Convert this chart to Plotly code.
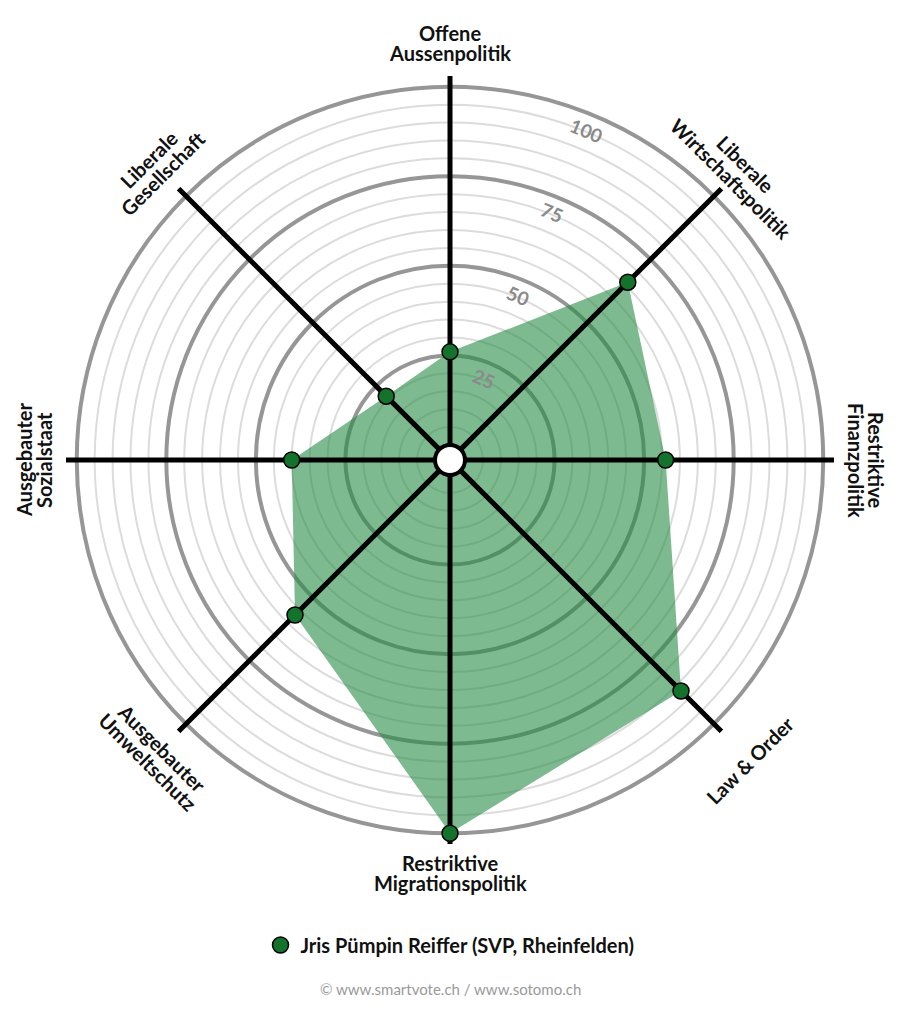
import math
import plotly.graph_objects as go

# axis categories, clockwise from the top
categories = [
    "Offene<br>Aussenpolitik",
    "Liberale<br>Wirtschaftspolitik",
    "Restriktive<br>Finanzpolitik",
    "Law & Order",
    "Restriktive<br>Migrationspolitik",
    "Ausgebauter<br>Umweltschutz",
    "Ausgebauter<br>Sozialstaat",
    "Liberale<br>Gesellschaft",
]
values = [26, 66, 56, 87, 100, 57, 40, 21]
candidate = "Jris Pümpin Reiffer (SVP, Rheinfelden)"

thin_rings = list(range(5, 101, 5))
thick_rings = [25, 50, 75, 100]
ring_labels = ["25", "50", "75", "100"]

W, H = 900, 1024
OFF = 8                    # page body margin, compensated
CX, CY = 450 - OFF, 460 - OFF
R_PX = 384                 # px radius of the polar area
HOLE_PX = 15
R_MAX = 103
LINE_GAP = 20              # px between label lines

FONT = "Lato"
GREEN_FILL = "rgba(40,140,70,0.6)"
GREEN_DOT = "#13722b"

dom_x = [(CX - R_PX) / W, (CX + R_PX) / W]
dom_y = [1 - (CY + R_PX) / H, 1 - (CY - R_PX) / H]
hole = HOLE_PX / R_PX


def polar_cfg(grid_vals, grid_color, grid_width):
    return dict(
        domain=dict(x=dom_x, y=dom_y),
        hole=hole,
        bgcolor="rgba(0,0,0,0)",
        radialaxis=dict(range=[0, R_MAX], tickvals=grid_vals, showticklabels=False,
                        showline=False, ticks="", gridcolor=grid_color, gridwidth=grid_width),
        angularaxis=dict(type="category", categoryarray=categories, direction="clockwise",
                         rotation=90, showgrid=False, showline=False, showticklabels=False,
                         ticks=""),
    )


def to_px(angle_deg, radius_px):
    # angle measured clockwise from north
    a = math.radians(angle_deg)
    return CX + radius_px * math.sin(a), CY - radius_px * math.cos(a)


fig = go.Figure()

# invisible trace to keep the background polar (thin rings) alive
fig.add_trace(go.Scatterpolar(r=[0], theta=[categories[0]], mode="markers",
                              marker=dict(opacity=0), showlegend=False,
                              hoverinfo="skip", subplot="polar"))

# filled area
fig.add_trace(go.Scatterpolar(
    r=values + values[:1], theta=categories + categories[:1],
    mode="lines", fill="toself", fillcolor=GREEN_FILL, line=dict(width=0),
    showlegend=False, hoverinfo="skip", subplot="polar2",
))

# black spokes
for cat in categories:
    fig.add_trace(go.Scatterpolar(
        r=[0, R_MAX], theta=[cat, cat], mode="lines",
        line=dict(color="black", width=5), showlegend=False,
        hoverinfo="skip", subplot="polar2",
    ))

# candidate points
fig.add_trace(go.Scatterpolar(
    r=values, theta=categories, mode="markers", name=candidate,
    marker=dict(size=16, color=GREEN_DOT, line=dict(color="black", width=1.5)),
    subplot="polar2",
))

annotations = []
# category labels around the chart, one annotation per line for tight spacing
label_rot = [0, 45, 90, -45, 0, 45, -90, -45]
label_rad = [417, 408, 416, 424, 413, 417, 416, 416]
for i, cat in enumerate(categories):
    cx, cy = to_px(i * 45, label_rad[i])
    th = math.radians(label_rot[i])
    down = (-math.sin(th), math.cos(th))
    lines = cat.split("<br>")
    n = len(lines)
    for j, line in enumerate(lines):
        k = (j - (n - 1) / 2) * LINE_GAP
        x, y = cx + k * down[0], cy + k * down[1]
        annotations.append(dict(
            x=x / W, y=1 - y / H, xref="paper", yref="paper", text=line, showarrow=False,
            textangle=label_rot[i], xanchor="center", yanchor="middle",
            font=dict(family=FONT, size=20, color="#111", weight="bold"),
        ))

# ring value labels
for val, txt in zip(thick_rings, ring_labels):
    rad = HOLE_PX + (val - 4.5) / R_MAX * (R_PX - HOLE_PX)
    x, y = to_px(22.5, rad)
    annotations.append(dict(
        x=x / W, y=1 - y / H, xref="paper", yref="paper", text=txt, showarrow=False,
        textangle=22.5, xanchor="center", yanchor="middle",
        font=dict(family=FONT, size=19, color="#8a8a8a", weight="bold"),
    ))

annotations.append(dict(
    x=(450 - OFF) / W, y=1 - (1000 - OFF) / H, xref="paper", yref="paper",
    text="© www.smartvote.ch / www.sotomo.ch", showarrow=False,
    font=dict(family=FONT, size=15, color="#9a9a9a"),
))

fig.update_layout(
    width=W, height=H,
    margin=dict(l=0, r=0, t=0, b=0),
    paper_bgcolor="white",
    plot_bgcolor="white",
    polar=polar_cfg(thin_rings, "#dcdcdc", 2),
    polar2=polar_cfg(thick_rings, "#969696", 4),
    showlegend=True,
    legend=dict(orientation="h", x=(450 - OFF) / W, xanchor="center", y=1 - (945 - OFF) / H,
                yanchor="middle", font=dict(family=FONT, size=20, color="#111", weight="bold"),
                itemsizing="trace", itemwidth=30, bgcolor="rgba(0,0,0,0)"),
    annotations=annotations,
    shapes=[dict(type="circle", xref="paper", yref="paper", layer="above",
                 x0=(CX - 15) / W, x1=(CX + 15) / W,
                 y0=1 - (CY + 15) / H, y1=1 - (CY - 15) / H,
                 fillcolor="white", line=dict(color="black", width=4))],
)

fig.write_html("out.html")
